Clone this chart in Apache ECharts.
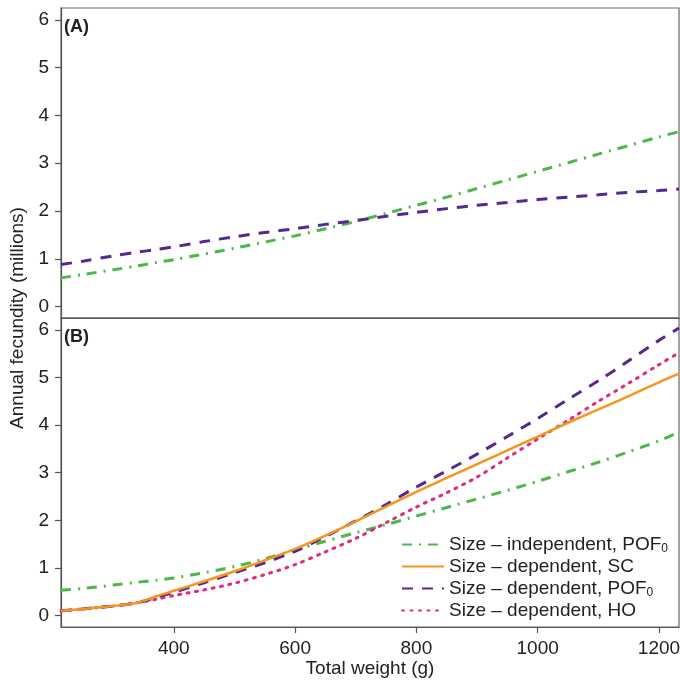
<!DOCTYPE html>
<html>
<head>
<meta charset="utf-8">
<script src="https://cdn.jsdelivr.net/npm/echarts@6/dist/echarts.min.js"></script>
<style>
html,body{margin:0;padding:0;background:#fff;}
#chart{width:680px;height:681px;}
</style>
</head>
<body>
<div id="chart"></div>
<script>
// Total weight (g)
const weights = [214, 250, 300, 340, 370, 400, 450, 500, 550, 600, 650, 700, 750, 800, 850, 900, 950, 1000, 1050, 1100, 1150, 1200, 1233];

// Panel A
const aIndepPOF = [0.60, 0.67, 0.77, 0.85, 0.92, 0.98, 1.10, 1.22, 1.35, 1.48, 1.63, 1.78, 1.95, 2.12, 2.29, 2.47, 2.65, 2.83, 3.01, 3.19, 3.37, 3.55, 3.66];
const aDepPOF   = [0.88, 0.95, 1.06, 1.14, 1.19, 1.25, 1.36, 1.46, 1.55, 1.63, 1.72, 1.80, 1.89, 1.97, 2.05, 2.12, 2.18, 2.24, 2.29, 2.34, 2.39, 2.43, 2.46];

// Panel B
const bIndepPOF = [0.53, 0.57, 0.64, 0.70, 0.74, 0.79, 0.90, 1.03, 1.19, 1.38, 1.56, 1.74, 1.91, 2.09, 2.27, 2.45, 2.63, 2.82, 3.02, 3.22, 3.44, 3.67, 3.86];
const bDepSC    = [0.10, 0.14, 0.20, 0.27, 0.40, 0.52, 0.72, 0.93, 1.16, 1.40, 1.68, 1.98, 2.29, 2.60, 2.89, 3.18, 3.47, 3.76, 4.05, 4.33, 4.61, 4.90, 5.08];
const bDepPOF   = [0.10, 0.14, 0.20, 0.27, 0.38, 0.49, 0.69, 0.90, 1.11, 1.35, 1.66, 1.99, 2.33, 2.70, 3.04, 3.39, 3.76, 4.14, 4.54, 4.93, 5.35, 5.78, 6.04];
const bDepHO    = [0.10, 0.14, 0.20, 0.27, 0.34, 0.42, 0.54, 0.68, 0.86, 1.07, 1.34, 1.62, 1.95, 2.28, 2.58, 2.91, 3.31, 3.71, 4.10, 4.50, 4.88, 5.27, 5.52];

const xTicks = [400, 600, 800, 1000, 1200];
const yTicks = [0, 1, 2, 3, 4, 5, 6];

const legendNames = ['Size – independent, POF0', 'Size – dependent, SC', 'Size – dependent, POF0 ', 'Size – dependent, HO'];

const C_GREEN = '#4cb848', C_ORANGE = '#f7941d', C_PURPLE = '#55288f', C_PINK = '#e2287f';
const DASHDOT = [10, 7, 2, 7], DASH = [11, 9], DOT = [2, 6.5];

function pairs(ys) { return weights.map((w, i) => [w, ys[i]]); }

const FONT = 'Liberation Sans, Arial, sans-serif';
const axisCol = '#555';

function xAxisDef(gi, show) {
  return {
    type: 'value', gridIndex: gi, min: 214, max: 1233,
    axisLine: { show: true, onZero: false, lineStyle: { color: axisCol, width: 1.2 } },
    axisTick: { show: show, length: 6, customValues: xTicks, lineStyle: { color: axisCol, width: 1.2 } },
    axisLabel: { show: show, customValues: xTicks, margin: 12, fontSize: 19, color: '#222', fontFamily: FONT,
      formatter: function (v) { return String(v); } },
    splitLine: { show: false },
    name: show ? 'Total weight (g)' : '', nameLocation: 'middle', nameGap: 32,
    nameTextStyle: { fontSize: 19, color: '#222', fontFamily: FONT }
  };
}
function yAxisDef(gi) {
  return {
    type: 'value', gridIndex: gi, min: -0.24, max: 6.25,
    axisLine: { show: true, onZero: false, lineStyle: { color: axisCol, width: 1.2 } },
    axisTick: { show: true, length: 6, customValues: yTicks, lineStyle: { color: axisCol, width: 1.2 } },
    axisLabel: { show: true, customValues: yTicks, margin: 12, fontSize: 19, color: '#222', fontFamily: FONT,
      formatter: function (v) { return String(v); } },
    splitLine: { show: false }
  };
}
function lineSeries(name, gi, ys, color, type, width) {
  return {
    name: name, type: 'line', xAxisIndex: gi, yAxisIndex: gi,
    data: pairs(ys), showSymbol: false, symbol: 'none', smooth: 0.3,
    lineStyle: { color: color, width: width, type: type, cap: type === DOT ? 'round' : 'butt' },
    itemStyle: { color: color }, silent: true, animation: false
  };
}

const chart = echarts.init(document.getElementById('chart'), null, { renderer: 'canvas' });
chart.setOption({
  animation: false,
  backgroundColor: '#fff',
  textStyle: { fontFamily: FONT },
  grid: [
    { left: 61, top: 8, width: 618, height: 310, show: true, borderColor: '#666', borderWidth: 1.2, backgroundColor: 'transparent', outerBoundsMode: 'none', containLabel: false },
    { left: 61, top: 318, width: 618, height: 309, show: true, borderColor: '#666', borderWidth: 1.2, backgroundColor: 'transparent', outerBoundsMode: 'none', containLabel: false }
  ],
  xAxis: [xAxisDef(0, false), xAxisDef(1, true)],
  yAxis: [yAxisDef(0), yAxisDef(1)],
  legend: {
    data: legendNames, orient: 'vertical', left: 396, top: 529,
    itemWidth: 42, itemHeight: 12, itemGap: 1,
    itemStyle: { color: 'rgba(0,0,0,0)', borderWidth: 0, opacity: 0 },
    formatter: function (n) {
      return n.trim().replace(/POF0$/, 'POF{sub|0}');
    },
    textStyle: {
      fontSize: 19, color: '#222', fontFamily: FONT, lineHeight: 21,
      rich: { sub: { fontSize: 12, color: '#222', fontFamily: FONT, padding: [9, 0, 0, 0] } }
    },
    selectedMode: false
  },
  graphic: [
    { type: 'text', left: 64, top: 18, style: { text: '(A)', fontSize: 18, fontWeight: 'bold', fill: '#222', fontFamily: FONT } },
    { type: 'text', left: 64, top: 328, style: { text: '(B)', fontSize: 18, fontWeight: 'bold', fill: '#222', fontFamily: FONT } },
    { type: 'text', x: 18, y: 318, rotation: Math.PI / 2, style: { text: 'Annual fecundity (millions)', fontSize: 19, fill: '#222', fontFamily: FONT, align: 'center', verticalAlign: 'middle' } }
  ],
  series: [
    lineSeries('A indep POF', 0, aIndepPOF, C_GREEN, DASHDOT, 3),
    lineSeries('A dep POF', 0, aDepPOF, C_PURPLE, DASH, 3),
    lineSeries(legendNames[0], 1, bIndepPOF, C_GREEN, DASHDOT, 3),
    lineSeries(legendNames[3], 1, bDepHO, C_PINK, DOT, 3),
    lineSeries(legendNames[2], 1, bDepPOF, C_PURPLE, DASH, 3),
    lineSeries(legendNames[1], 1, bDepSC, C_ORANGE, 'solid', 2.5)
  ]
});
</script>
</body>
</html>
